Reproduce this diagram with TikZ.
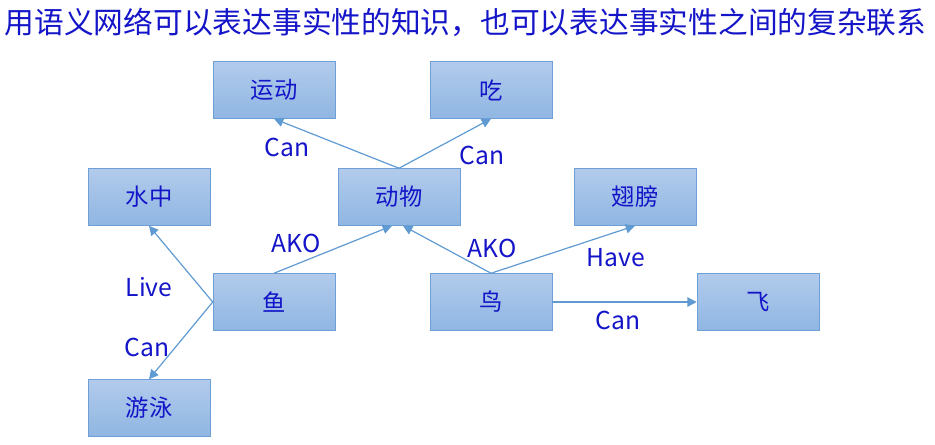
\documentclass[tikz,border=0pt]{standalone}
\usepackage{fontspec}
\setmainfont{Noto Sans CJK SC}
\usetikzlibrary{arrows.meta}
\definecolor{txt}{RGB}{20,20,200}
\definecolor{ftop}{RGB}{178,203,236}
\definecolor{fbot}{RGB}{143,182,226}
\definecolor{bord}{RGB}{110,160,215}
\definecolor{edge}{RGB}{95,155,210}
\tikzset{
  box/.style={draw=bord, top color=ftop, bottom color=fbot, minimum width=91.5pt, minimum height=42.75pt, inner sep=0pt, text=txt, font=\fontsize{17.5}{18}\selectfont},
  rel/.style={draw=edge, line width=0.9pt, -{Triangle[length=7pt,width=7pt]}},
  lab/.style={text=txt, font=\fontsize{18.5}{19}\selectfont}
}
\begin{document}
\begin{tikzpicture}[x=0.75pt,y=-0.75pt]
\useasboundingbox (0,0) rectangle (935,444);
\node[text=txt, anchor=west, font=\fontsize{22.3}{23}\selectfont] (title) at (0,22) {用语义网络可以表达事实性的知识，也可以表达事实性之间的复杂联系};
\node[box] (yd) at (274,90) {运动};
\node[box] (chi) at (491,90) {吃};
\node[box] (sz) at (149,197) {水中};
\node[box] (dw) at (399,197) {动物};
\node[box] (cb) at (635,197) {翅膀};
\node[box] (yu) at (274,302) {鱼};
\node[box] (niao) at (491,302) {鸟};
\node[box] (fei) at (758,302) {飞};
\node[box] (yy) at (149,408) {游泳};
\draw[rel] (dw.north) -- (yd.south);
\draw[rel] (dw.north) -- (chi.south);
\draw[rel] (yu.north) -- ([xshift=-5.25pt]dw.south);
\draw[rel] (niao.north) -- ([xshift=3pt]dw.south);
\draw[rel] (niao.north) -- (cb.south);
\draw[rel] (niao.east) -- (fei.west);
\draw[rel] (yu.west) -- (sz.south);
\draw[rel] (yu.west) -- (yy.north);
\node[lab] (l1) at (287,147) {Can};
\node[lab] (l2) at (482,155) {Can};
\node[lab] (l3) at (296,243) {AKO};
\node[lab] (l4) at (492,248) {AKO};
\node[lab] (l5) at (616,258) {Have};
\node[lab] (l6) at (618,320) {Can};
\node[lab] (l7) at (149,287) {Live};
\node[lab] (l8) at (147,347) {Can};
\end{tikzpicture}
\end{document}
